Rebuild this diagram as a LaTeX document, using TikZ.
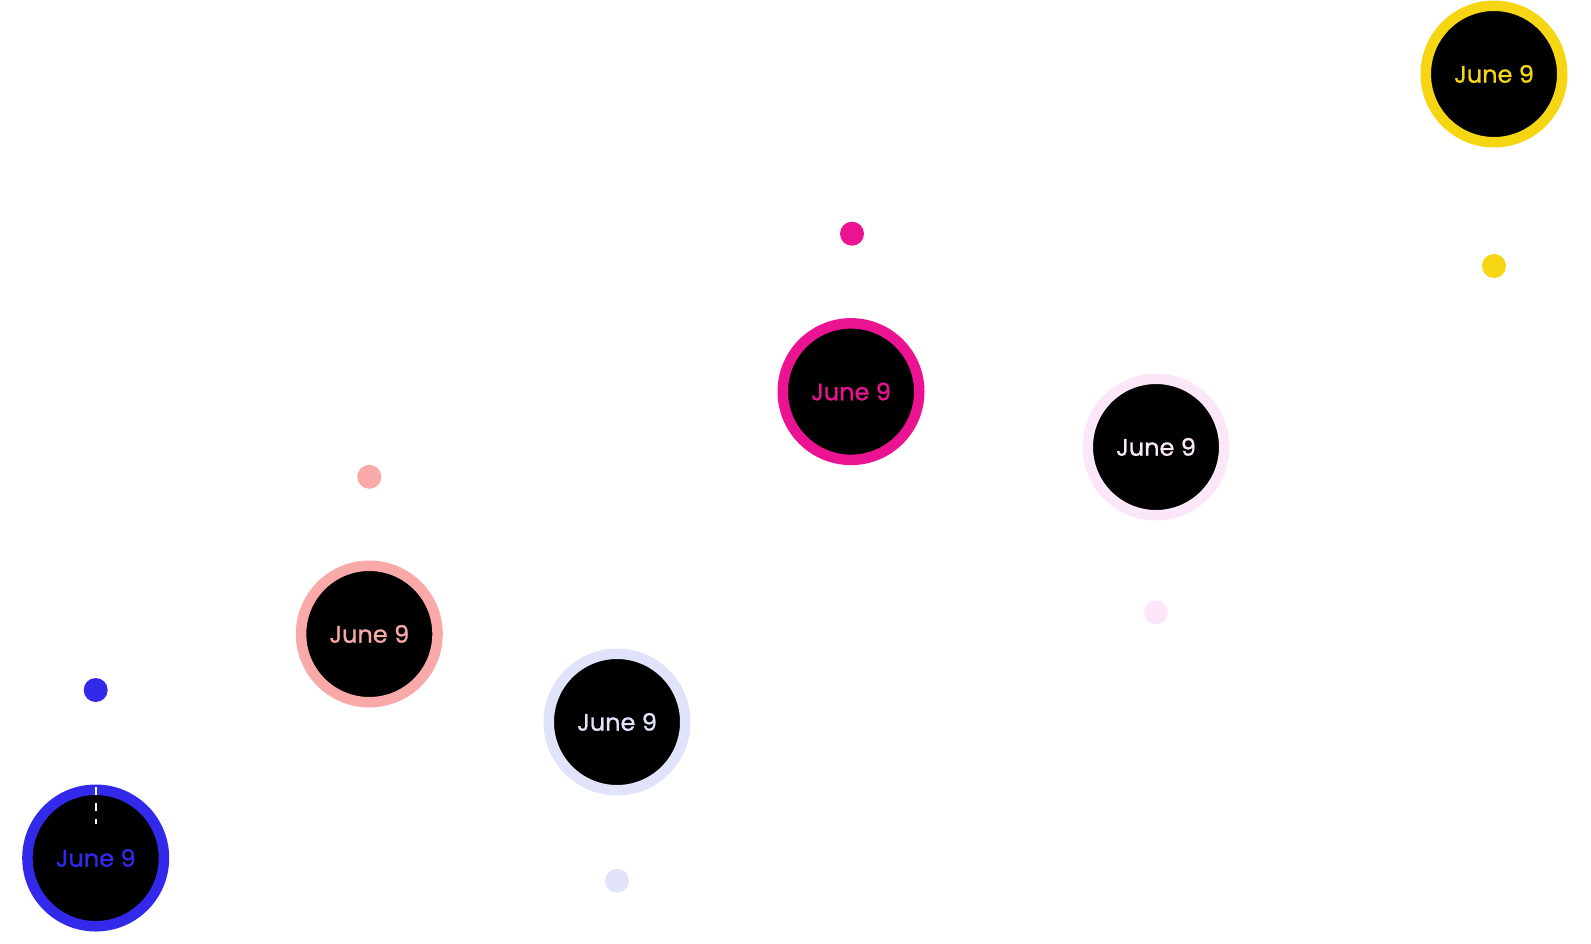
\documentclass[tikz,border=0pt]{standalone}
\usepackage{fontspec}
\setmainfont{Poppins}
\newfontfamily\datefont{Poppins}[FakeBold=0.9]
\definecolor{cblue}{HTML}{3329EA}
\definecolor{csalmon}{HTML}{F9A9A8}
\definecolor{clav}{HTML}{E1E3FA}
\definecolor{cmag}{HTML}{EC1392}
\definecolor{cpink}{HTML}{FCE7F8}
\definecolor{cyel}{HTML}{F6D613}
\begin{document}
\begin{tikzpicture}[x=1pt,y=-1pt,
  datebub/.style={circle, fill=black, draw=#1, text=#1, line width=10.5pt,
    minimum size=136.5pt, inner sep=0pt, outer sep=0pt,
    font=\datefont\fontsize{24}{27}\selectfont},
  dotmark/.style={circle, fill=#1, draw=none, minimum size=24pt, inner sep=0pt}]
\useasboundingbox (0,0) rectangle (1591,943);
\node[datebub=cblue] (b) at (95.7,858) {June 9};
\node[dotmark=cblue] (bd) at (95.7,690) {};
\node[datebub=csalmon] (s) at (369.3,634) {June 9};
\node[dotmark=csalmon] (sd) at (369.3,476.8) {};
\node[datebub=clav] (l) at (617,722) {June 9};
\node[dotmark=clav] (ld) at (617,880.7) {};
\node[datebub=cmag] (m) at (851,391.6) {June 9};
\node[dotmark=cmag] (md) at (852,233.7) {};
\node[datebub=cpink] (p) at (1156,447) {June 9};
\node[dotmark=cpink] (pd) at (1156,612.3) {};
\node[datebub=cyel] (y) at (1494,74) {June 9};
\node[dotmark=cyel] (yd) at (1494,266) {};
\coordinate (bt) at ([yshift=3pt]b.north);
\draw[white, line width=2pt, dash pattern=on 8pt off 8pt] (bt) -- ++(0,37);
\end{tikzpicture}
\end{document}
